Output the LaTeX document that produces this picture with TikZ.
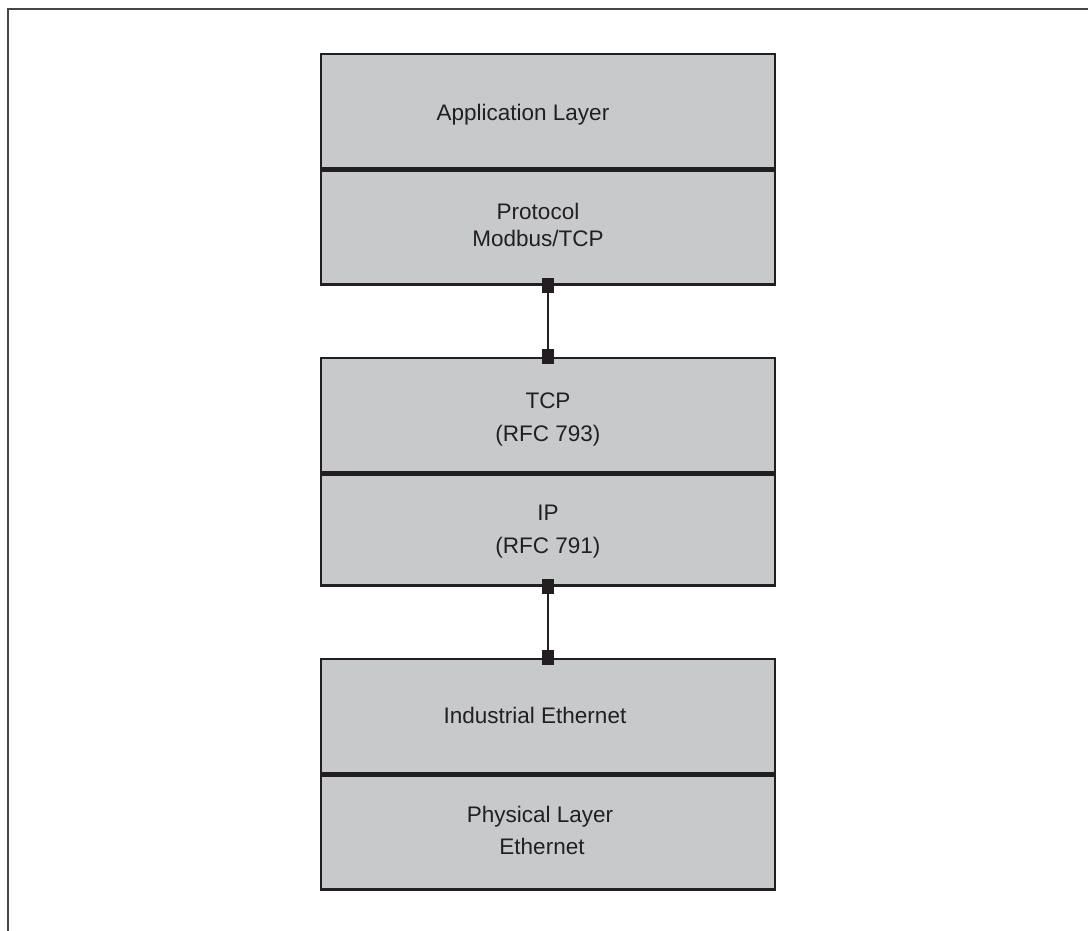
\documentclass[tikz,border=0pt]{standalone}
\usepackage{fontspec}
\setmainfont{Liberation Sans}
\usetikzlibrary{positioning}
\definecolor{layerfill}{RGB}{200,201,203}
\definecolor{layerdraw}{RGB}{35,31,32}
\definecolor{framecol}{RGB}{70,70,70}
\tikzstyle{layer} = [rectangle, minimum width=454pt, minimum height=114pt, fill=layerfill, draw=layerdraw, line width=2.5pt, inner sep=0pt]
\tikzstyle{txt} = [anchor=base, inner sep=0pt, text=layerdraw, font=\fontsize{22.5}{27}\selectfont]
\tikzstyle{port} = [rectangle, fill=layerdraw, minimum width=12pt, minimum height=15pt, inner sep=0pt]
\tikzstyle{link} = [draw=layerdraw, line width=2.5pt]

\begin{document}
\begin{tikzpicture}[x=1pt, y=-1pt]
  \useasboundingbox (0,0) rectangle (1088,931);
  \draw [framecol, line width=2.5pt] (1088,9) -- (8,9) -- (8,931);

  \node (app) [layer] at (548,111) {};
  \node (proto) [layer, below=0pt of app] {};
  \node (tcp) [layer] at (548,415) {};
  \node (ip) [layer, below=0pt of tcp, minimum height=111pt] {};
  \node (ieth) [layer] at (548,716) {};
  \node (phys) [layer, below=0pt of ieth] {};

  \node (apptxt) [txt] at (523,121) {Application Layer};
  \node (prototxt) [txt] at (538,219) {Protocol};
  \node (modbustxt) [txt] at (538,247) {Modbus/TCP};
  \node (tcptxt) [txt] at (548,408) {TCP};
  \node (rfctcp) [txt] at (548,441) {(RFC 793)};
  \node (iptxt) [txt] at (548,520) {IP};
  \node (rfcip) [txt] at (548,553) {(RFC 791)};
  \node (iethtxt) [txt] at (535,723) {Industrial Ethernet};
  \node (phystxt) [txt] at (540,822) {Physical Layer};
  \node (ethtxt) [txt] at (542,854) {Ethernet};

  \node (p1) [port] at (proto.south) {};
  \node (p2) [port] at (tcp.north) {};
  \node (p3) [port] at (ip.south) {};
  \node (p4) [port] at (ieth.north) {};

  \draw [link] (p1) -- (p2);
  \draw [link] (p3) -- (p4);
\end{tikzpicture}
\end{document}
